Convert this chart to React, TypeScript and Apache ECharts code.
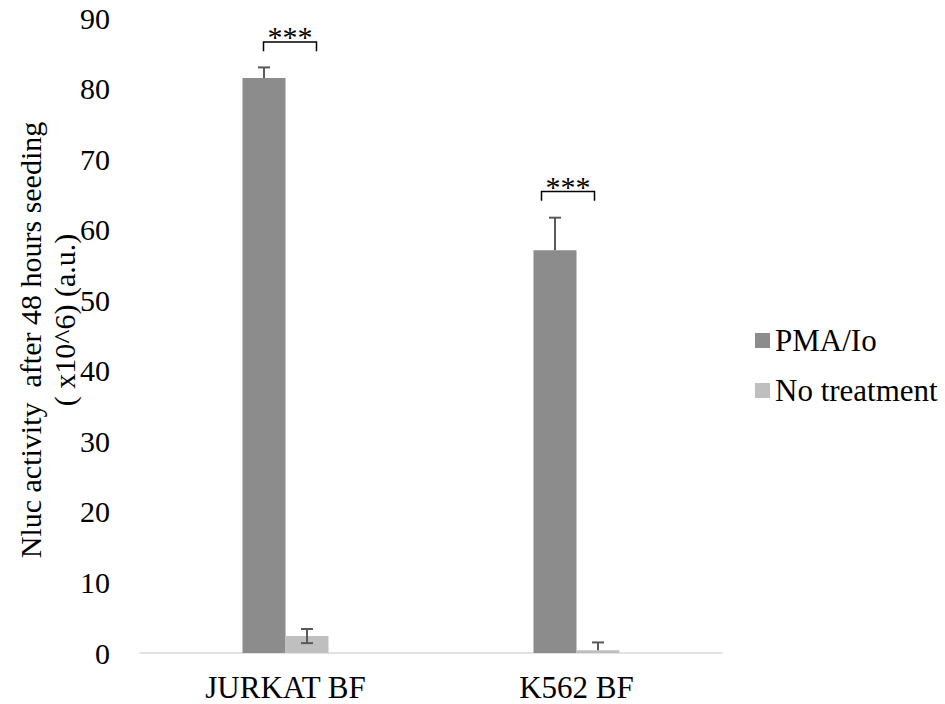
import React, { useEffect, useRef } from "react";
import * as echarts from "echarts";

const categories = ["JURKAT BF", "K562 BF"];
const seriesNames = ["PMA/Io", "No treatment"];
const pmaValues = [81.5, 57.1];
const pmaErrors = [1.5, 4.6];
const noTreatValues = [2.4, 0.4];
const noTreatErrors = [1.0, 1.1];
const yTicks = { min: 0, max: 90, interval: 10 };
const sigLabels = ["***", "***"];
const sigTop = [86.6, 65.4];
const sigBottom = [85.3, 64.1];

const FONT = "'Liberation Serif', 'Times New Roman', serif";
const BAR_W = 43;
// bracket pixel offsets from the category centre (style, not data)
const bracketOffsets = [
  [-22, 31],
  [-35, 18],
];

export default function App() {
  const ref = useRef<HTMLDivElement>(null);
  useEffect(() => {
    if (!ref.current) return;
    const chart = echarts.init(ref.current, null, { renderer: "svg" });

    const errData = (vals: number[], errs: number[]) =>
      categories.map((c, i) => [i, vals[i], errs[i]]);

    const makeErrSeries = (
      vals: number[],
      errs: number[],
      offset: number,
      showMinus: boolean
    ) => ({
      type: "custom",
      z: 10,
      silent: true,
      data: errData(vals, errs),
      encode: { x: 0, y: 1 },
      renderItem: (params: any, api: any) => {
        const x = api.value(0);
        const y = api.value(1);
        const e = api.value(2);
        const base = api.coord([x, y]);
        const top = api.coord([x, y + e]);
        const cx = base[0] + offset;
        const style = { stroke: "#595959", lineWidth: 2 };
        const children: any[] = [
          { type: "line", shape: { x1: cx, y1: base[1], x2: cx, y2: top[1] }, style },
          { type: "line", shape: { x1: cx - 6, y1: top[1], x2: cx + 6, y2: top[1] }, style },
        ];
        if (showMinus && y - e >= 0) {
          const bot = api.coord([x, y - e]);
          children.push(
            { type: "line", shape: { x1: cx, y1: base[1], x2: cx, y2: bot[1] }, style },
            { type: "line", shape: { x1: cx - 6, y1: bot[1], x2: cx + 6, y2: bot[1] }, style }
          );
        }
        return { type: "group", children };
      },
    });

    const option: any = {
      animation: false,
      backgroundColor: "#ffffff",
      grid: { left: 140, right: 223, top: 18, bottom: 51, containLabel: false },
      legend: {
        data: seriesNames,
        orient: "vertical",
        left: 750,
        top: 320,
        icon: "rect",
        itemWidth: 15,
        itemHeight: 15,
        itemGap: 19,
        textStyle: { fontFamily: FONT, fontSize: 31, color: "#000" },
      },
      xAxis: {
        type: "category",
        data: categories,
        axisLine: { show: true, lineStyle: { color: "#d9d9d9", width: 1.5 } },
        axisTick: { show: false },
        axisLabel: { fontFamily: FONT, fontSize: 31, color: "#000", margin: 19 },
        splitLine: { show: false },
      },
      yAxis: {
        type: "value",
        min: yTicks.min,
        max: yTicks.max,
        interval: yTicks.interval,
        axisLine: { show: false },
        axisTick: { show: false },
        splitLine: { show: false },
        axisLabel: { fontFamily: FONT, fontSize: 30, color: "#000", margin: 30 },
      },
      graphic: [
        {
          type: "text",
          x: 30,
          y: 340,
          rotation: Math.PI / 2,
          style: {
            text: "Nluc activity  after 48 hours seeding",
            font: `30px ${FONT}`,
            fill: "#000",
            textAlign: "center",
            textVerticalAlign: "middle",
          },
        },
        {
          type: "text",
          x: 64,
          y: 320,
          rotation: Math.PI / 2,
          style: {
            text: "( x10^6) (a.u.)",
            font: `30px ${FONT}`,
            fill: "#000",
            textAlign: "center",
            textVerticalAlign: "middle",
          },
        },
      ],
      series: [
        {
          name: seriesNames[0],
          type: "bar",
          data: pmaValues,
          barWidth: BAR_W,
          barGap: "0%",
          itemStyle: { color: "#8c8c8c" },
        },
        {
          name: seriesNames[1],
          type: "bar",
          data: noTreatValues,
          barWidth: BAR_W,
          barGap: "0%",
          itemStyle: { color: "#bfbfbf" },
        },
        makeErrSeries(pmaValues, pmaErrors, -BAR_W / 2, false),
        makeErrSeries(noTreatValues, noTreatErrors, BAR_W / 2, true),
        {
          type: "custom",
          z: 11,
          silent: true,
          data: categories.map((c, i) => [i, sigTop[i], sigBottom[i]]),
          encode: { x: 0, y: 1 },
          renderItem: (params: any, api: any) => {
            const i = params.dataIndex;
            const x = api.value(0);
            const t = api.coord([x, api.value(1)]);
            const b = api.coord([x, api.value(2)]);
            const [lo, ro] = bracketOffsets[i];
            const l = t[0] + lo;
            const r = t[0] + ro;
            return {
              type: "group",
              children: [
                {
                  type: "polyline",
                  shape: { points: [[l, b[1]], [l, t[1]], [r, t[1]], [r, b[1]]] },
                  style: { stroke: "#000", lineWidth: 1.5, fill: "none" },
                },
                {
                  type: "text",
                  x: (l + r) / 2,
                  y: t[1] - 5,
                  style: {
                    text: sigLabels[i],
                    font: `30px ${FONT}`,
                    fill: "#000",
                    textAlign: "center",
                    textVerticalAlign: "middle",
                  },
                },
              ],
            };
          },
        },
      ],
    };
    chart.setOption(option);
    return () => chart.dispose();
  }, []);
  return (
    <div
      ref={ref}
      style={{ position: "fixed", left: 0, top: 0, width: 945, height: 704, background: "#fff" }}
    />
  );
}
